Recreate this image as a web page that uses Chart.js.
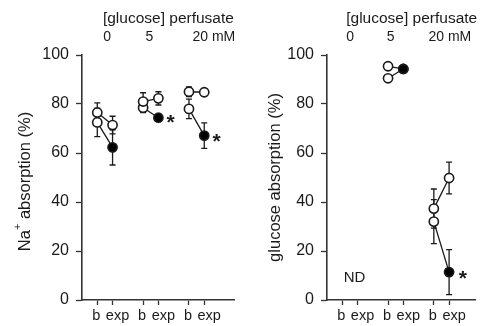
<!DOCTYPE html>
<html><head><meta charset="utf-8">
<script src="https://cdn.jsdelivr.net/npm/chart.js@4/dist/chart.umd.min.js"></script>
<style>
html,body{margin:0;padding:0;background:#fff;}
#wrap{position:relative;width:482px;height:326px;overflow:hidden;}
canvas{position:absolute;top:0;}
</style></head><body>
<div id="wrap">
<canvas id="c1" width="241" height="326" style="left:0"></canvas>
<canvas id="c2" width="241" height="326" style="left:241px"></canvas>
</div>
<script>
// ---- data ----
const xTickPositions = [1, 2, 4, 5, 7, 8];
const xTickLabels = ['b', 'exp', 'b', 'exp', 'b', 'exp'];
const yTickValues = [0, 20, 40, 60, 80, 100];
const concLabels = ['0', '5', '20 mM'];
const headerText = '[glucose] perfusate';

// Na+ absorption: each entry is one connected pair [b, exp]
const naSegX = [[1, 2], [1, 2], [4, 5], [4, 5], [7, 8], [7, 8]];
const naSegY = [[76.5, 71.4], [72.5, 62.3], [81, 82.3], [78.5, 74.4], [85, 84.8], [78, 67.1]];
const naSegErr = [[4, 3.6], [5.8, 7.2], [3.6, 2.7], [2, 1.5], [2, 1.5], [4, 5.2]];
const naSegFilled = [[0, 0], [0, 1], [0, 0], [0, 1], [0, 0], [0, 1]];
const naStarX = [5.8, 8.8];
const naStarY = [74, 66.5];

// glucose absorption
const gluSegX = [[4, 5], [4, 5], [7, 8], [7, 8]];
const gluSegY = [[95.4, 94.3], [90.5, 94.3], [37.3, 49.8], [32, 11.4]];
const gluSegErr = [[1, 1], [1, 1], [8, 6.5], [9, 9.2]];
const gluSegFilled = [[0, 1], [0, 1], [0, 0], [0, 1]];
const gluStarX = [8.9];
const gluStarY = [10.6];

// ---- drawing ----
const FONT = '"Liberation Sans", Arial, Helvetica, sans-serif';
const INK = '#1a1a1a';

function makePanel(id, cfg) {
  const datasets = cfg.segX.map((xs, i) => ({
    data: xs.map((x, j) => ({ x: x, y: cfg.segY[i][j] })),
    errs: cfg.segErr[i],
    borderColor: INK, borderWidth: 1.3,
    pointRadius: 4.6, pointBorderWidth: 1.6, pointBorderColor: INK,
    pointBackgroundColor: cfg.segFilled[i].map(f => f ? '#000' : '#fff'),
    showLine: true, tension: 0, fill: false
  }));

  const annot = {
    id: 'annot',
    beforeDatasetsDraw(chart) {
      const ctx = chart.ctx, xs = chart.scales.x, ys = chart.scales.y;
      ctx.save();
      ctx.strokeStyle = INK; ctx.lineWidth = 1.3;
      chart.data.datasets.forEach(ds => {
        ds.data.forEach((p, j) => {
          const e = ds.errs[j];
          if (!e) return;
          const px = xs.getPixelForValue(p.x);
          const t = ys.getPixelForValue(p.y + e), b = ys.getPixelForValue(p.y - e);
          ctx.beginPath();
          ctx.moveTo(px, t); ctx.lineTo(px, b);
          ctx.moveTo(px - 3, t); ctx.lineTo(px + 3, t);
          ctx.moveTo(px - 3, b); ctx.lineTo(px + 3, b);
          ctx.stroke();
        });
      });
      ctx.restore();
    },
    afterDraw(chart) {
      const ctx = chart.ctx, xs = chart.scales.x, ys = chart.scales.y;
      ctx.save();
      ctx.fillStyle = INK;
      // x tick labels (b slightly left, exp shifted right as in the figure)
      ctx.font = '14.5px ' + FONT;
      ctx.textAlign = 'center'; ctx.textBaseline = 'middle';
      xTickPositions.forEach((v, i) => {
        const off = xTickLabels[i] === 'b' ? -1 : 5;
        ctx.fillText(xTickLabels[i], xs.getPixelForValue(v) + off, chart.chartArea.bottom + 16);
      });
      // header
      ctx.font = '15.5px ' + FONT;
      ctx.textAlign = 'left';
      ctx.fillText(headerText, xs.getPixelForValue(cfg.headX), 19);
      ctx.font = '14px ' + FONT;
      concLabels.forEach((t, i) => ctx.fillText(t, xs.getPixelForValue(cfg.concX[i]), 37));
      // stars
      ctx.font = 'bold 21px ' + FONT;
      ctx.textAlign = 'center';
      cfg.starX.forEach((sx, i) => ctx.fillText('*', xs.getPixelForValue(sx), ys.getPixelForValue(cfg.starY[i]) + 5));
      // extra text (ND)
      if (cfg.note) {
        ctx.font = '15px ' + FONT;
        ctx.textAlign = 'left';
        ctx.fillText(cfg.note.text, xs.getPixelForValue(cfg.note.x), ys.getPixelForValue(cfg.note.y));
      }
      // y title
      ctx.translate(cfg.titleX, (chart.chartArea.top + chart.chartArea.bottom) / 2 + cfg.titleDY);
      ctx.rotate(-Math.PI / 2);
      ctx.textBaseline = 'middle';
      ctx.textAlign = 'left';
      const big = '16.5px ' + FONT, small = '11px ' + FONT;
      ctx.font = big;
      const w1 = ctx.measureText(cfg.title[0]).width;
      const w3 = ctx.measureText(cfg.title[2]).width;
      ctx.font = small;
      const w2 = cfg.title[1] ? ctx.measureText(cfg.title[1]).width : 0;
      let x0 = -(w1 + w2 + w3) / 2;
      ctx.font = big; ctx.fillText(cfg.title[0], x0, 0);
      if (cfg.title[1]) { ctx.font = small; ctx.fillText(cfg.title[1], x0 + w1, -7); }
      ctx.font = big; ctx.fillText(cfg.title[2], x0 + w1 + w2, 0);
      ctx.restore();
    }
  };

  return new Chart(document.getElementById(id), {
    type: 'line',
    data: { datasets },
    plugins: [annot],
    options: {
      responsive: false, animation: false, devicePixelRatio: 1,
      layout: { padding: { top: 55, bottom: 0, left: 0, right: cfg.padRight } },
      plugins: { legend: { display: false }, tooltip: { enabled: false } },
      scales: {
        x: {
          type: 'linear', min: 0, max: cfg.xMax,
          afterBuildTicks: s => { s.ticks = xTickPositions.map(v => ({ value: v })); },
          afterFit: s => { s.height = 26; },
          ticks: { display: false, autoSkip: false, maxRotation: 0 },
          grid: { drawOnChartArea: false, tickLength: 5, tickWidth: 1.3, tickColor: '#333' },
          border: { color: '#333', width: 1.6 }
        },
        y: {
          min: 0, max: 100,
          afterBuildTicks: s => { s.ticks = yTickValues.map(v => ({ value: v })); },
          afterFit: s => { s.width = cfg.yWidth; },
          ticks: { padding: 7, color: INK, font: { family: FONT, size: 16 } },
          grid: { drawOnChartArea: false, tickLength: 6, tickWidth: 1.3, tickColor: '#333' },
          border: { color: '#333', width: 1.6 }
        }
      }
    }
  });
}

makePanel('c1', {
  segX: naSegX, segY: naSegY, segErr: naSegErr, segFilled: naSegFilled,
  starX: naStarX, starY: naStarY,
  xMax: 10, yWidth: 82, padRight: 4,
  headX: 1.37, concX: [1.39, 4.15, 7.23],
  title: ['Na', '+', ' absorption (%)'], titleX: 25, titleDY: 4
});
makePanel('c2', {
  segX: gluSegX, segY: gluSegY, segErr: gluSegErr, segFilled: gluSegFilled,
  starX: gluStarX, starY: gluStarY,
  xMax: 9.75, yWidth: 86, padRight: 0,
  headX: 1.26, concX: [1.26, 3.92, 6.65],
  note: { text: 'ND', x: 1.1, y: 9 },
  title: ['glucose absorption (%)', '', ''], titleX: 34, titleDY: 0
});
</script>
</body></html>
